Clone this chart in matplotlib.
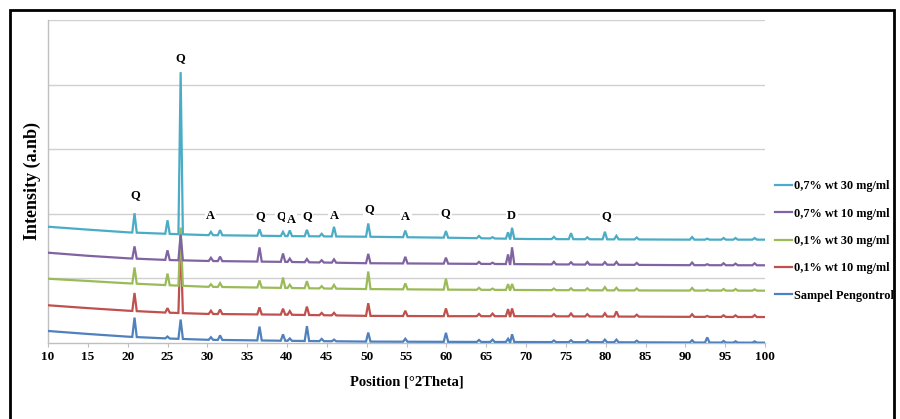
import numpy as np
import matplotlib
matplotlib.use("Agg")
import matplotlib.pyplot as plt
from matplotlib.patches import Rectangle

# ---------------- data ----------------
series_names = ["0,7% wt 30 mg/ml", "0,7% wt 10 mg/ml", "0,1% wt 30 mg/ml",
                "0,1% wt 10 mg/ml", "Sampel Pengontrol"]
series_colors = ["#4BACC6", "#8064A2", "#9BBB59", "#C0504D", "#4F81BD"]

# baseline (background) of each pattern, read at these positions
x_base = [10, 15, 20, 25, 30, 40, 50, 60, 70, 80, 90, 100]
base_cyan = [1800, 1755, 1713, 1690, 1670, 1655, 1645, 1630, 1610, 1605, 1600, 1600]
base_purple = [1398, 1350, 1311, 1285, 1270, 1255, 1235, 1228, 1220, 1212, 1205, 1203]
base_green = [995, 960, 924, 895, 870, 852, 835, 826, 820, 815, 812, 810]
base_red = [584, 540, 500, 470, 450, 438, 420, 415, 415, 410, 405, 402]
base_blue = [186, 140, 98, 70, 50, 34, 22, 18, 15, 12, 8, 5]

# peak positions (deg 2theta) and heights above background
peak_pos = [20.86, 25.0, 26.65, 30.45, 31.6, 36.55, 39.5, 40.35, 42.5, 44.35,
            45.9, 50.2, 54.85, 59.95, 64.1, 65.8, 67.75, 68.25, 73.5, 75.65,
            77.7, 79.9, 81.35, 83.9, 90.85, 92.75, 94.8, 96.3, 98.7]
peak_cyan = [300, 210, 2510, 50, 80, 100, 65, 88, 100, 40,
             150, 206, 103, 103, 35, 20, 100, 170, 35, 93,
             30, 117, 55, 30, 40, 15, 25, 25, 25]
peak_purple = [190, 150, 400, 50, 70, 220, 130, 52, 50, 35,
               52, 145, 103, 93, 30, 20, 150, 260, 40, 35,
               40, 40, 45, 30, 40, 15, 30, 25, 30]
peak_green = [250, 180, 900, 40, 60, 110, 160, 50, 110, 35,
              57, 272, 93, 170, 30, 20, 90, 93, 25, 30,
              30, 50, 40, 30, 40, 15, 25, 25, 20]
peak_red = [280, 70, 1150, 50, 70, 110, 93, 56, 130, 35,
            40, 196, 82, 120, 35, 40, 110, 120, 35, 45,
            35, 50, 80, 30, 40, 15, 25, 25, 30]
peak_blue = [300, 30, 300, 40, 70, 215, 100, 37, 230, 35,
             25, 140, 46, 140, 30, 35, 50, 120, 25, 30,
             30, 40, 40, 25, 35, 80, 25, 20, 20]

# phase labels
label_text = ["Q", "Q", "A", "Q", "Q", "A", "Q", "A", "Q", "A", "Q", "D", "Q"]
label_x = [20.9, 26.65, 30.4, 36.6, 39.3, 40.5, 42.5, 45.9, 50.3, 54.9, 59.9, 68.2, 80.1]
label_y = [2290, 4410, 1960, 1960, 1960, 1900, 1960, 1960, 2080, 1950, 2010, 1960, 1960]

xticks = list(range(10, 101, 5))

# ---------------- figure ----------------
W, H = 900, 419
fig = plt.figure(figsize=(W / 100, H / 100), dpi=100)
ax = fig.add_axes([48 / W, 1 - 343 / H, (765 - 48) / W, (343 - 20) / H])

serif = ["Liberation Serif", "DejaVu Serif"]

bases = [base_cyan, base_purple, base_green, base_red, base_blue]
peaks = [peak_cyan, peak_purple, peak_green, peak_red, peak_blue]
half_w = 0.28

lines = {}
# draw bottom series first so that the top pattern lies above
for idx in [4, 3, 2, 1, 0]:
    b = bases[idx]
    pk = peaks[idx]
    pts = []
    for xb in x_base:
        if all(abs(xb - p) > half_w for p in peak_pos):
            pts.append((xb, np.interp(xb, x_base, b)))
    for p, h in zip(peak_pos, pk):
        for xx, add in ((p - half_w, 0.0), (p, h), (p + half_w, 0.0)):
            pts.append((xx, np.interp(xx, x_base, b) + add))
    pts.sort()
    xs = [q[0] for q in pts]
    ys = [q[1] for q in pts]
    ln, = ax.plot(xs, ys, color=series_colors[idx], lw=1.6, solid_joinstyle="miter",
                  label=series_names[idx], zorder=3 + (4 - idx))
    lines[idx] = ln

ax.set_xlim(10, 100)
ax.set_ylim(0, 5000)
ax.set_yticks([1000, 2000, 3000, 4000, 5000])
ax.set_yticklabels([])
ax.tick_params(axis="y", length=0)
ax.grid(axis="y", color="#d0d0d0", lw=1.0, zorder=0)
ax.set_xticks(xticks)
ax.set_xticklabels([str(t) for t in xticks], fontfamily=serif, fontweight="bold", fontsize=9.5)
ax.tick_params(axis="x", length=3, color="#bfbfbf", pad=2.5)
for s in ["top", "right"]:
    ax.spines[s].set_visible(False)
for s in ["left", "bottom"]:
    ax.spines[s].set_color("#bfbfbf")
    ax.spines[s].set_linewidth(1.0)

for t, x, y in zip(label_text, label_x, label_y):
    ax.text(x, y, t, ha="center", va="center", fontfamily=serif, fontweight="bold",
            fontsize=9, zorder=10,
            bbox=dict(facecolor="white", edgecolor="none", pad=1.0))

ax.set_xlabel("Position [°2Theta]", fontfamily=serif, fontweight="bold", fontsize=10.5,
              labelpad=9)
fig.text(32 / W, 1 - 181 / H, "Intensity (a.nb)", rotation=90, ha="center", va="center",
         fontfamily=serif, fontweight="bold", fontsize=13)

handles = [lines[i] for i in range(5)]
leg = fig.legend(handles, series_names, loc="center left",
                 bbox_to_anchor=(775 / W, 1 - 241 / H), bbox_transform=fig.transFigure,
                 frameon=False, borderpad=0, borderaxespad=0, handlelength=1.4,
                 handletextpad=0.15, labelspacing=1.25,
                 prop=dict(family=serif, weight="bold", size=8.8))

# outer frame
fig.patches.append(Rectangle((10 / W, -0.05), (894 - 10) / W, 1.05 - 10 / H,
                             transform=fig.transFigure, fill=False, edgecolor="black",
                             lw=2.0))

fig.savefig("out.png", dpi=100)
